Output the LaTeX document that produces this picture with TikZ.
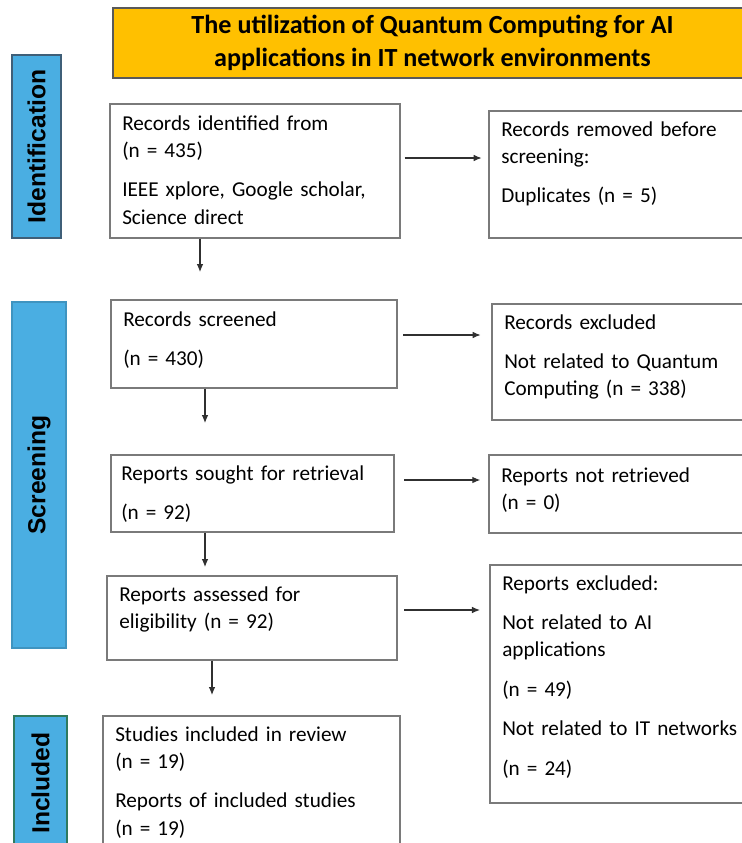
\documentclass[tikz,border=0pt]{standalone}
\usepackage{fontspec}
\setmainfont{Carlito}
\newfontfamily\stagefont{Liberation Sans}
\usetikzlibrary{%
  arrows.meta,%
  positioning,%
  fit%
}
\tikzset{>={Latex[length=6pt,width=5pt]}}
\definecolor{titlegold}{HTML}{FFC000}
\definecolor{stageblue}{HTML}{4AAEE2}
\definecolor{boxgrey}{HTML}{7A7A7A}
\definecolor{arrowgrey}{HTML}{303030}

\begin{document}
\begin{tikzpicture}[x=0.75pt,y=-0.75pt,
    box/.style={draw=boxgrey,line width=1.1pt,inner sep=0pt},
    txt/.style={anchor=base west,inner sep=0pt,text width=225pt,align=left,
      font=\fontsize{15.9}{20.6}\selectfont},
    stage/.style={fill=stageblue,line width=1pt,inner sep=0pt},
    stagetxt/.style={rotate=90,font=\stagefont\bfseries\fontsize{18.5}{20}\selectfont},
    arr/.style={->,draw=arrowgrey,line width=0.8pt}]
  \useasboundingbox (0,0) rectangle (742,843);
  \clip (0,0) rectangle (742,843);

  % title
  \node[draw=black!65,line width=1pt,fill=titlegold,inner sep=0pt,
    fit={(113,8) (752,78)}] (title) {};
  \node[align=center,font=\bfseries\fontsize{19.6}{24.75}\selectfont]
    (titlet) at (title.center) {The utilization of Quantum Computing for AI\\
    applications in IT network environments};

  % stages
  \node[stage,draw={rgb,255:red,63;green,95;blue,120},fit={(12,55) (61,238)}] (sid) {};
  \node[stagetxt] (sidt) at (sid.center) {Identification};
  \node[stage,draw=stageblue!85!black,fit={(12,302) (66,648)}] (sscr) {};
  \node[stagetxt] (sscrt) at (sscr.center) {Screening};
  \node[stage,draw={rgb,255:red,47;green,122;blue,95},fit={(14,716) (67,860)}] (sinc) {};
  \node[stagetxt] (sinct) at (40.5,783) {Included};

  % left column
  \node[box,fit={(110,104) (400,238)}] (idf) {};
  \node[txt] (idft) at (122,130) {Records identified from\\(n = 435)\\[9pt]
    IEEE xplore, Google scholar,\\Science direct};
  \node[box,fit={(111,300) (397,388)}] (scr) {};
  \node[txt] (scrt) at (123,326) {Records screened\\[9pt](n = 430)};
  \node[box,fit={(111,455) (394,532)}] (sgt) {};
  \node[txt] (sgtt) at (121,480) {Reports sought for retrieval\\[9pt](n = 92)};
  \node[box,fit={(107,576) (397,660)}] (ass) {};
  \node[txt] (asst) at (119,601) {Reports assessed for\\eligibility (n = 92)};
  \node[box,fit={(103,716) (400,870)}] (inc) {};
  \node[txt] (inct) at (115,741) {Studies included in review\\(n = 19)\\[9pt]
    Reports of included studies\\(n = 19)};

  % right column
  \node[box,fit={(489,111) (752,238)}] (dup) {};
  \node[txt] (dupt) at (501,136) {Records removed before\\screening:\\[9pt]
    Duplicates (n = 5)};
  \node[box,fit={(492,304) (752,420)}] (exc) {};
  \node[txt] (exct) at (504,329) {Records excluded\\[9pt]Not related to Quantum\\
    Computing (n = 338)};
  \node[box,fit={(489,455) (752,533)}] (nret) {};
  \node[txt] (nrett) at (501,482) {Reports not retrieved\\(n = 0)};
  \node[box,fit={(490,565) (752,803)}] (rexc) {};
  \node[txt] (rexct) at (502,590) {Reports excluded:\\[9pt]Not related to AI\\
    applications\\[9pt](n = 49)\\[9pt]Not related to IT networks\\[9pt](n = 24)};

  % arrows
  \coordinate (d1) at (200,272);
  \coordinate (d2) at (205,423);
  \coordinate (d3) at (205,567);
  \coordinate (d4) at (212,695);
  \draw[arr] (idf.south -| d1) -- (d1);
  \draw[arr] (scr.south -| d2) -- (d2);
  \draw[arr] (sgt.south -| d3) -- (d3);
  \draw[arr] (ass.south -| d4) -- (d4);
  \draw[arr,shorten <=3pt,shorten >=5pt] (idf.east |- 0,158) -- (dup.west |- 0,158);
  \draw[arr,shorten <=4pt,shorten >=8pt] (scr.east |- 0,335) -- (exc.west |- 0,335);
  \draw[arr,shorten <=7pt,shorten >=6pt] (sgt.east |- 0,480) -- (nret.west |- 0,480);
  \draw[arr,shorten <=5pt,shorten >=7pt] (ass.east |- 0,610) -- (rexc.west |- 0,610);
\end{tikzpicture}
\end{document}
